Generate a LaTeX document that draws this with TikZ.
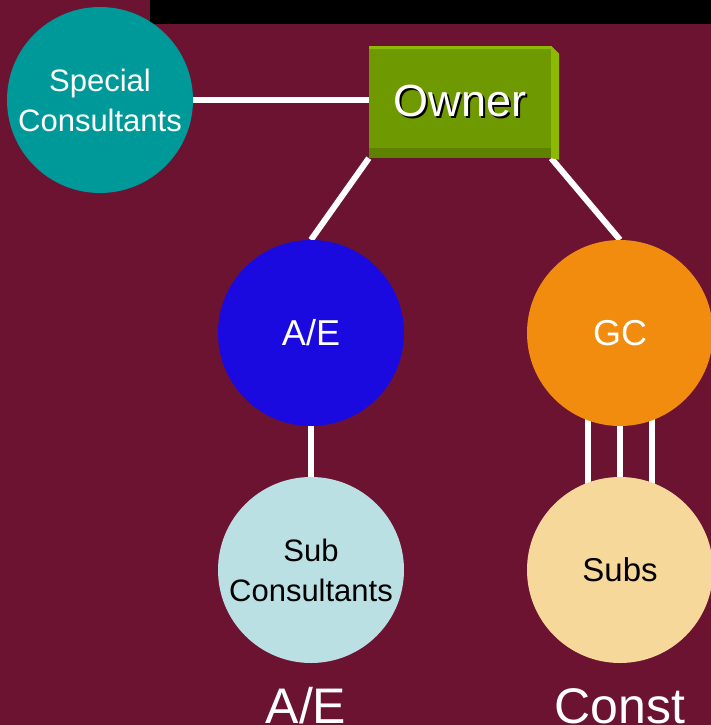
\documentclass[tikz,border=0pt]{standalone}
\usepackage{fontspec}
\setmainfont{Liberation Sans}

\definecolor{bgmaroon}{RGB}{109,19,50}
\definecolor{specialteal}{RGB}{0,153,153}
\definecolor{aeblue}{RGB}{26,10,224}
\definecolor{gcorange}{RGB}{242,140,15}
\definecolor{subblue}{RGB}{187,224,227}
\definecolor{subpeach}{RGB}{247,216,155}
\definecolor{ownergreen}{RGB}{111,153,0}
\definecolor{ownerlight}{RGB}{140,186,0}
\definecolor{ownerdark}{RGB}{94,130,0}

\pgfdeclarelayer{bg}
\pgfdeclarelayer{edges}
\pgfsetlayers{bg,edges,main}

\tikzset{
  party/.style={circle,minimum size=186pt,inner sep=0pt,align=center},
  ownerbox/.style={rectangle,fill=ownergreen,text=white,minimum width=182pt,minimum height=112pt,inner sep=0pt,font=\fontsize{45}{50}\selectfont},
  tag/.style={text=white,inner sep=0pt,anchor=base,font=\fontsize{50}{55}\selectfont},
  link/.style={draw=white,line width=6pt},
}

\begin{document}
\begin{tikzpicture}[x=1pt,y=-1pt]
  \useasboundingbox (0,0) rectangle (711,725);
  \begin{pgfonlayer}{bg}
    \fill[bgmaroon] (0,0) rectangle (711,725);
    \fill[black] (150,0) rectangle (711,24);
  \end{pgfonlayer}

  % parties
  \node[party,fill=specialteal,text=white,font=\fontsize{31}{40}\selectfont] (special) at (100,100) {Special\\Consultants};
  \node[ownerbox] (owner) at (460,102) {\makebox[0pt][l]{\hspace{2pt}\raisebox{-2pt}{\color{black}Owner}}Owner};
  \fill[ownerlight] (owner.north east) -- ++(8,8) -- ++(0,106) -- (owner.south east) -- cycle;
  \fill[ownerlight] (owner.north west) rectangle ++(182,3);
  \fill[ownerdark] (owner.south west) rectangle ++(182,-10);
  \node[party,fill=aeblue,text=white,font=\fontsize{36}{40}\selectfont] (ae) at (311,333) {A/E};
  \node[party,fill=gcorange,text=white,font=\fontsize{36}{40}\selectfont] (gc) at (620,333) {GC};
  \node[party,fill=subblue,font=\fontsize{31}{40}\selectfont] (subcons) at (311,570) {Sub\\Consultants};
  \node[party,fill=subpeach,font=\fontsize{33}{40}\selectfont] (subs) at (620,570) {Subs};

  % column tags
  \node[tag] (aetag) at (306,723) {A/E};
  \node[tag] (consttag) at (620,723) {Const};

  % contracts
  \begin{pgfonlayer}{edges}
    \draw[link] (special.east) -- (special.east -| owner.west);
    \draw[link] (owner.south west) -- (ae.north);
    \draw[link] (owner.south east) -- (gc.north);
    \draw[link] (ae) -- (subcons);
    \foreach \dx in {-32,0,32}
      \draw[link] ([xshift=\dx pt]gc.center) -- ([xshift=\dx pt]subs.center);
  \end{pgfonlayer}
\end{tikzpicture}
\end{document}
